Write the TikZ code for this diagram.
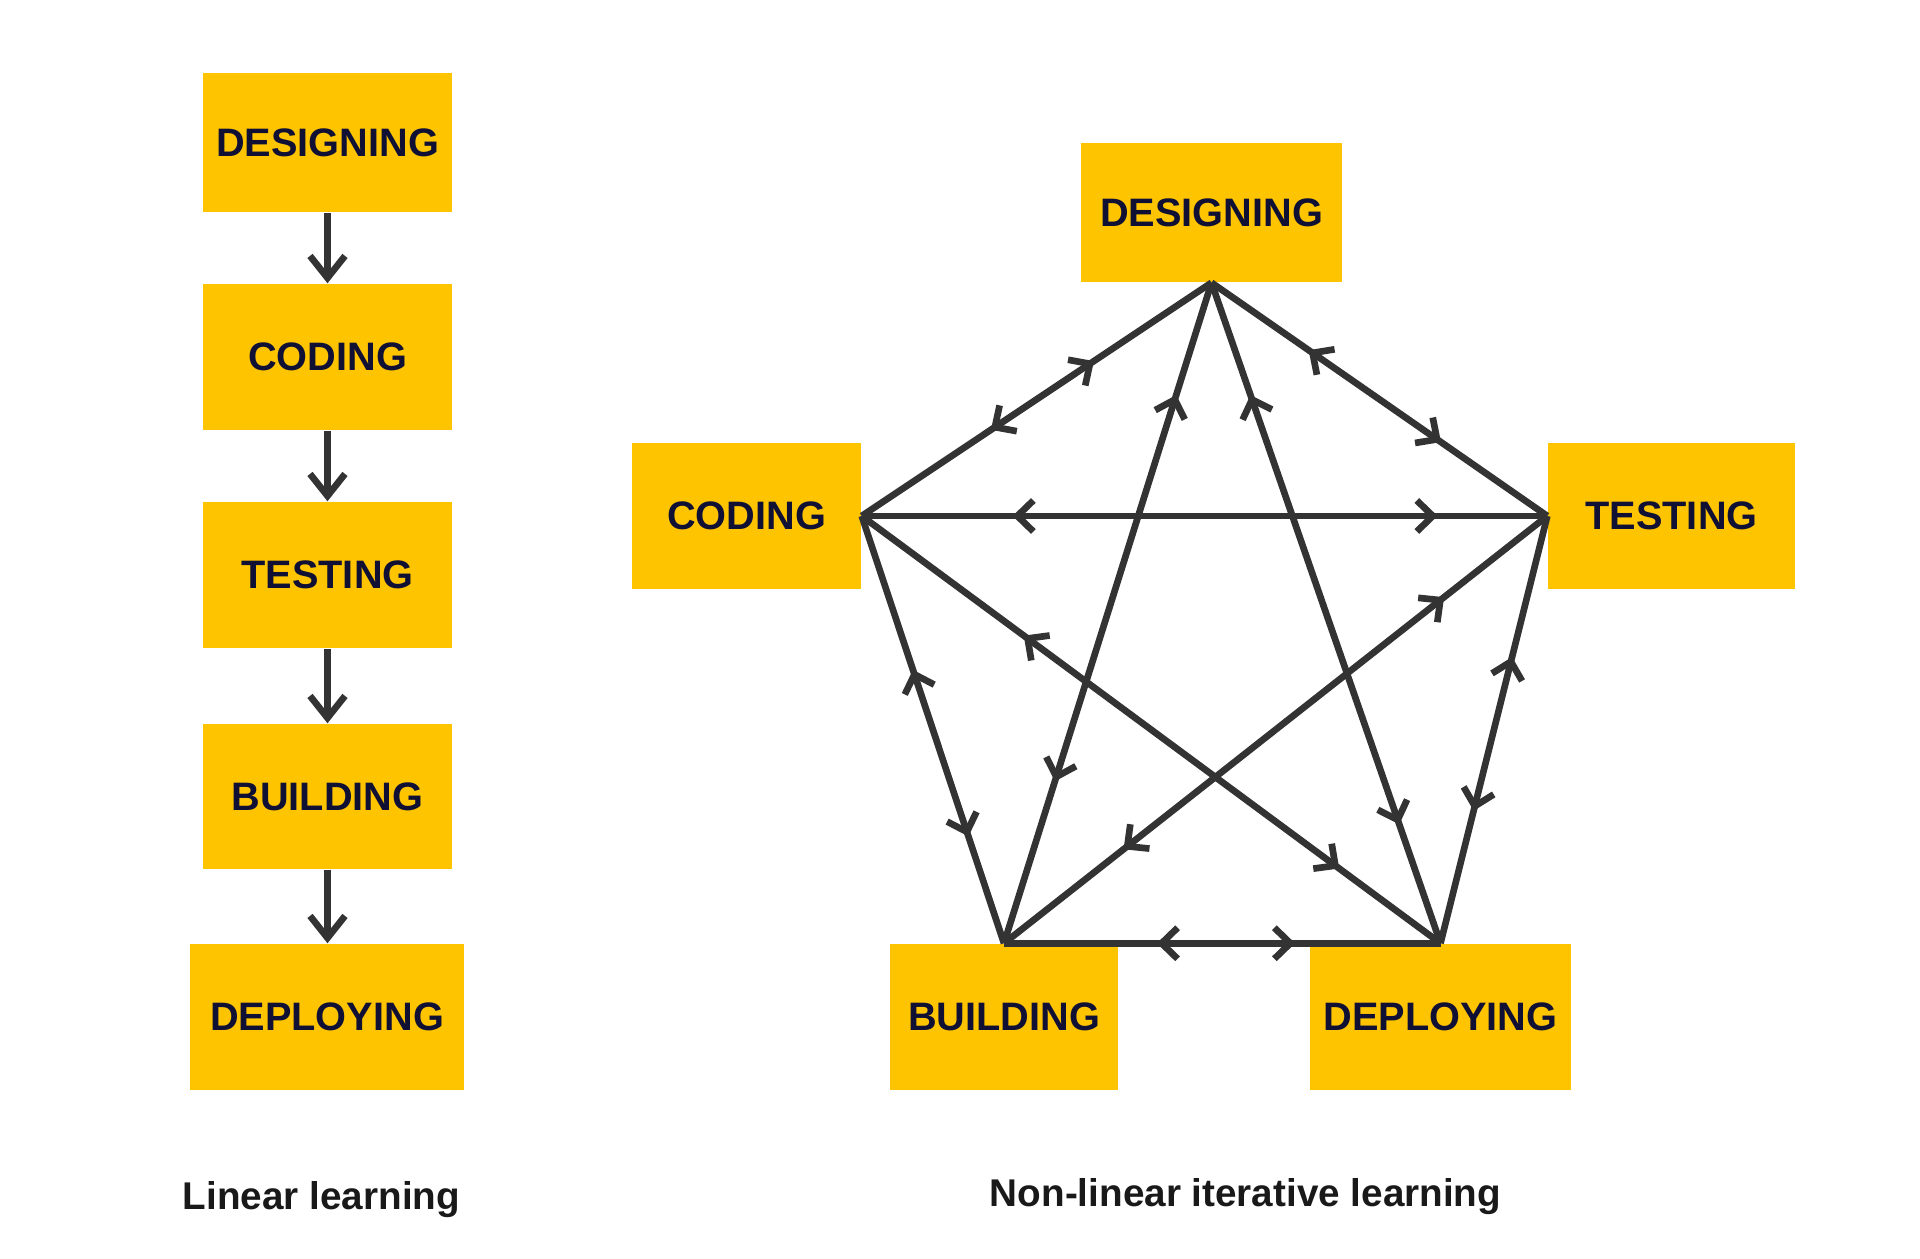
\documentclass[tikz,border=0pt]{standalone}
\usepackage{fontspec}
\setmainfont{Liberation Sans}
\usepackage{xcolor}
\usetikzlibrary{arrows.meta,decorations.markings}
\definecolor{AmarilloCaja}{RGB}{255,196,0}
\definecolor{AzulTexto}{RGB}{16,16,52}
\definecolor{GrisLinea}{RGB}{51,51,51}

\tikzset{
  doble/.style 2 args={postaction={decorate,decoration={markings,
      mark=at position #1 with {\arrowreversed{Straight Barb[length=1.6mm,width=3.1mm]}},
      mark=at position #2 with {\arrow{Straight Barb[length=1.6mm,width=3.1mm]}}}}}
}

\begin{document}
\begin{tikzpicture}[>={Straight Barb[length=2.2mm,width=3.5mm]},
  etapa/.style={fill=AmarilloCaja,text=AzulTexto,inner sep=0pt,minimum height=1.46cm,
    font=\bfseries\fontsize{11.3}{13}\selectfont},
  flecha/.style={line width=1.9pt,draw=GrisLinea},
  rotulo/.style={text=black!90,inner sep=0pt,font=\bfseries\fontsize{11}{13}\selectfont}]
  \useasboundingbox (0,0) rectangle (19.2,12.59);
  % lineal
  \node[etapa,minimum width=2.49cm,minimum height=1.39cm] (lDis) at (3.275,11.165) {DESIGNING};
  \node[etapa,minimum width=2.49cm] (lCod) at (3.275,9.02) {CODING};
  \node[etapa,minimum width=2.49cm] (lPru) at (3.275,6.84) {TESTING};
  \node[etapa,minimum width=2.49cm,minimum height=1.45cm] (lCon) at (3.275,4.625) {BUILDING};
  \node[etapa,minimum width=2.74cm] (lDes) at (3.27,2.42) {DEPLOYING};
  \draw[flecha,->] (lDis.south) -- (lCod.north);
  \draw[flecha,->] (lCod.south) -- (lPru.north);
  \draw[flecha,->] (lPru.south) -- (lCon.north);
  \draw[flecha,->] (lCon.south) -- (lCon.south |- lDes.north);
  % no lineal
  \node[etapa,minimum width=2.61cm,minimum height=1.39cm] (rDis) at (12.115,10.465) {DESIGNING};
  \node[etapa,minimum width=2.29cm] (rCod) at (7.465,7.43) {CODING};
  \node[etapa,minimum width=2.47cm] (rPru) at (16.715,7.43) {TESTING};
  \node[etapa,minimum width=2.28cm] (rCon) at (10.04,2.42) {BUILDING};
  \node[etapa,minimum width=2.61cm] (rDes) at (14.405,2.42) {DEPLOYING};
  \draw[flecha,doble={0.37}{0.665}] (rCod.east) -- (rDis.south);
  \draw[flecha,doble={0.29}{0.685}] (rDis.south) -- (rPru.west);
  \draw[flecha,doble={0.22}{0.84}] (rCod.east) -- (rPru.west);
  \draw[flecha,doble={0.17}{0.755}] (rDis.south) -- (rCon.north);
  \draw[flecha,doble={0.17}{0.82}] (rDis.south) -- (rDes.north);
  \draw[flecha,doble={0.36}{0.75}] (rCod.east) -- (rCon.north);
  \draw[flecha,doble={0.28}{0.825}] (rCod.east) -- (rDes.north);
  \draw[flecha,doble={0.19}{0.78}] (rPru.west) -- (rCon.north);
  \draw[flecha,doble={0.33}{0.69}] (rPru.west) -- (rDes.north);
  \draw[flecha,doble={0.35}{0.667}] (rCon.north) -- (rDes.north);
  % rotulos
  \node[rotulo,anchor=base] (tLin) at (3.215,0.49) {Linear learning};
  \node[rotulo,anchor=base] (tNoLin) at (12.455,0.52) {Non-linear iterative learning};
\end{tikzpicture}
\end{document}
